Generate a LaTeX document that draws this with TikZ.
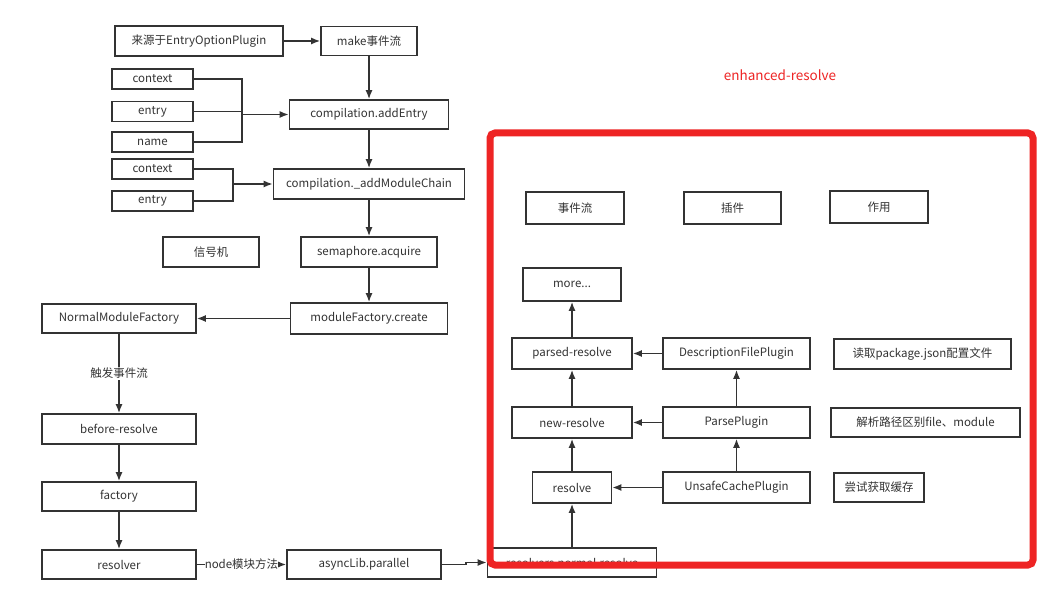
\documentclass[tikz,border=0pt]{standalone}
\usepackage{fontspec}
\setmainfont{Noto Sans CJK SC}
\usetikzlibrary{arrows.meta}

\definecolor{ink}{HTML}{333333}
\definecolor{frame}{HTML}{EE2424}

\begin{document}
\begin{tikzpicture}[x = 1pt, y = -1pt, > = {Latex[length = 9pt, width = 7pt]},
	box/.style = {draw = ink, line width = 1.6pt, text = ink, fill = white, inner sep = 0pt,
		minimum height = 30pt, font = \fontsize{11.5}{13}\selectfont},
	flow/.style = {->, draw = ink, line width = 1.6pt},
	tag/.style = {fill = white, text = ink, inner sep = 1pt, font = \fontsize{11.5}{13}\selectfont}]

	% Canvas

	\fill [white] (0, 0) rectangle (1048, 593);
	\useasboundingbox (0, 0) rectangle (1048, 593);

	% Definitions

	\def\colL{119}		% Left column
	\def\colM{369}		% Middle column
	\def\colR{572}		% Resolver column
	\def\colP{736.5}	% Plugin column

	% Entry part

	\node [box, minimum width = 168pt] (src) at (199, 41) {来源于EntryOptionPlugin};
	\node [box, minimum width = 96pt, minimum height = 29pt] (make) at (\colM, 41) {make事件流};

	\node [box, minimum width = 81pt, minimum height = 20pt] (ctxA) at (152.5, 79) {context};
	\node [box, minimum width = 81pt, minimum height = 20pt] (entA) at (152.5, 111.5) {entry};
	\node [box, minimum width = 81pt, minimum height = 20pt] (name) at (152.5, 142) {name};
	\node [box, minimum width = 159pt, minimum height = 29pt] (addEntry) at (\colM, 114.5) {compilation.addEntry};

	\node [box, minimum width = 81pt, minimum height = 20pt] (ctxB) at (152.5, 169) {context};
	\node [box, minimum width = 81pt, minimum height = 20pt] (entB) at (152.5, 201) {entry};
	\node [box, minimum width = 191pt] (addChain) at (\colM, 184) {compilation.\_addModuleChain};

	\coordinate (jA) at (242, 114.5);
	\coordinate (jB) at (233, 184);

	% Semaphore and factory

	\node [box, minimum width = 96pt] (signal) at (211, 252) {信号机};
	\node [box, minimum width = 136pt] (sema) at (\colM, 252) {semaphore.acquire};
	\node [box, minimum width = 157pt, minimum height = 31pt] (create) at (\colM, 318.5) {moduleFactory.create};
	\node [box, minimum width = 154pt, minimum height = 29pt] (nmf) at (\colL, 318.5) {NormalModuleFactory};

	% Left column

	\node [box, minimum width = 154pt] (before) at (\colL, 429) {before-resolve};
	\node [box, minimum width = 154pt, minimum height = 29pt] (factory) at (\colL, 496.5) {factory};
	\node [box, minimum width = 154pt, minimum height = 29pt] (resolver) at (\colL, 564.5) {resolver};
	\node [box, minimum width = 154pt, minimum height = 29pt] (async) at (364, 564.5) {asyncLib.parallel};

	% enhanced-resolve

	\node [text = frame, font = \fontsize{13.5}{15}\selectfont] (title) at (780, 75) {enhanced-resolve};

	\node [box, minimum width = 98pt, minimum height = 32pt] (evt) at (575, 208) {事件流};
	\node [box, minimum width = 97pt, minimum height = 32pt] (plugin) at (732.5, 208) {插件};
	\node [box, minimum width = 98pt, minimum height = 32pt] (role) at (879, 207) {作用};

	\node [box, minimum width = 98pt, minimum height = 33pt] (more) at (\colR, 284.5) {more...};
	\node [box, minimum width = 120pt, minimum height = 31pt] (parsed) at (\colR, 353.5) {parsed-resolve};
	\node [box, minimum width = 147pt, minimum height = 31pt] (desc) at (\colP, 353.5) {DescriptionFilePlugin};
	\node [box, minimum width = 177pt] (readPkg) at (922.5, 354) {读取package.json配置文件};

	\node [box, minimum width = 120pt, minimum height = 31pt] (newRes) at (\colR, 422.5) {new-resolve};
	\node [box, minimum width = 147pt, minimum height = 31pt] (parse) at (\colP, 422.5) {ParsePlugin};
	\node [box, minimum width = 189pt, minimum height = 29pt] (pathInfo) at (925.5, 422.5) {解析路径区别file、module};

	\node [box, minimum width = 79pt, minimum height = 31pt] (res) at (\colR, 487.5) {resolve};
	\node [box, minimum width = 147pt, minimum height = 31pt] (unsafe) at (\colP, 487.5) {UnsafeCachePlugin};
	\node [box, minimum width = 90pt, minimum height = 29pt] (cache) at (879, 487.5) {尝试获取缓存};

	\node [box, minimum width = 169pt, minimum height = 29pt] (normal) at (\colR, 562.5) {resolvers.normal.resolve};

	% Connectors of the main flow

	\draw [flow] (src) -- (make);
	\draw [flow] (make) -- (addEntry);
	\draw [flow] (addEntry) -- (addChain);
	\draw [flow] (addChain) -- (sema);
	\draw [flow] (sema) -- (create);
	\draw [flow] (create) -- (nmf);
	\draw [flow] (nmf) -- node [tag] {触发事件流} (before);
	\draw [flow] (before) -- (factory);
	\draw [flow] (factory) -- (resolver);
	\draw [flow] (resolver) -- node [tag, inner sep = 0pt] {node模块方法} (async);
	\draw [flow] (async.east) -- ++(24, 0) |- (normal.west);

	% Brackets

	\draw [draw = ink, line width = 1.6pt] (ctxA.east) -| (jA) |- (name.east);
	\draw [draw = ink, line width = 1.6pt] (entA.east) -- (entA.east -| jA);
	\draw [flow] (jA) -- (addEntry);
	\draw [draw = ink, line width = 1.6pt] (ctxB.east) -| (jB) |- (entB.east);
	\draw [flow] (jB) -- (addChain);

	% Resolver chain

	\draw [flow] (normal) -- (res);
	\draw [flow] (res) -- (newRes);
	\draw [flow] (newRes) -- (parsed);
	\draw [flow] (parsed) -- (more);
	\draw [flow] (desc) -- (parsed);
	\draw [flow] (parse) -- (newRes);
	\draw [flow] (unsafe) -- (res);
	\draw [flow] (unsafe) -- (parse);
	\draw [flow] (parse) -- (desc);

	% Red frame

	\draw [frame, line width = 7pt, rounded corners = 5pt] (490, 133) rectangle (1033, 565);

\end{tikzpicture}
\end{document}
